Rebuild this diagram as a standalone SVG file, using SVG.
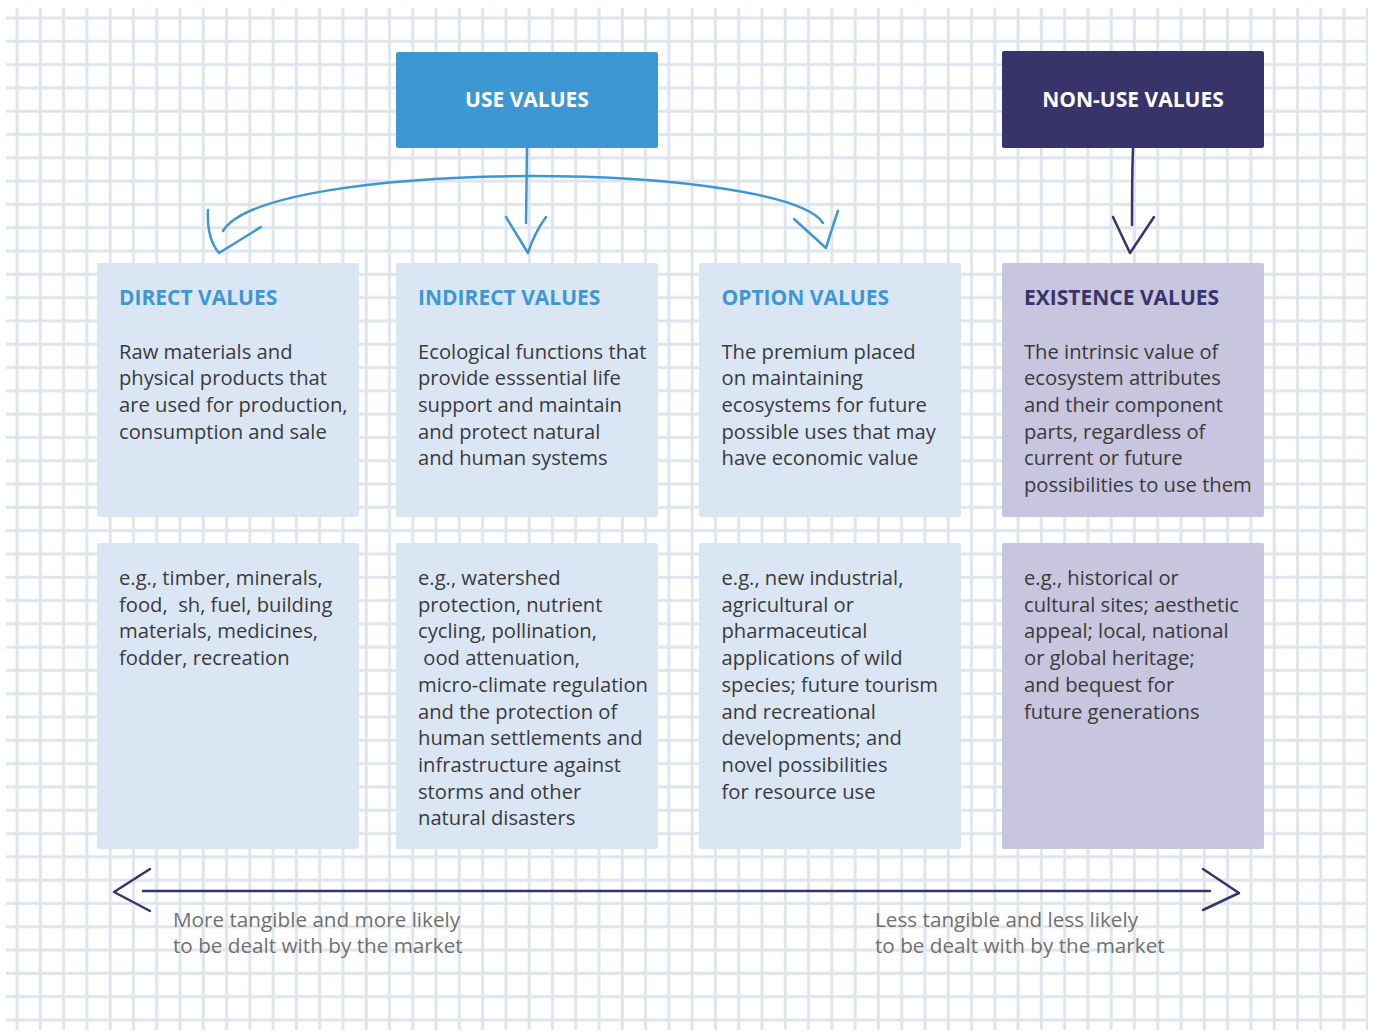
<svg xmlns="http://www.w3.org/2000/svg" width="1375" height="1032" viewBox="0 0 1375 1032">
<defs>
<pattern id="grid" patternUnits="userSpaceOnUse" x="6" y="8" width="23.28" height="23.3">
<rect x="9.5" y="0" width="3" height="23.3" fill="#dfe5ec"/>
<rect x="0" y="8.5" width="23.28" height="3" fill="#dfe5ec"/>
</pattern>
</defs>
<style>
.title{font-family:"Open Sans","Liberation Sans",sans-serif;font-weight:700;font-size:21px}
.head{font-family:"Open Sans","Liberation Sans",sans-serif;font-weight:700;font-size:21px;fill:#ffffff}
.body{font-family:"Open Sans","Liberation Sans",sans-serif;font-size:20.2px;fill:#3a3a3a;white-space:pre}
.note{font-family:"Open Sans","Liberation Sans",sans-serif;font-size:20.7px;fill:#707070}
.blue{fill:#dbe6f5}
.lav{fill:#c8c5de}
.cu{fill:none;stroke:#3d97d3;stroke-width:2.5;stroke-linecap:round;stroke-linejoin:round}
.cn{fill:none;stroke:#38346b;stroke-width:2.5;stroke-linecap:round;stroke-linejoin:round}
</style>
<rect x="0" y="0" width="1375" height="1032" fill="#ffffff"/>
<rect x="6" y="8" width="1362" height="1022" fill="url(#grid)"/>

<g id="use-values">
<rect x="396" y="52" width="262" height="96" rx="2" fill="#3d97d3"/>
<text class="head" x="527" y="107" text-anchor="middle">USE VALUES</text>
</g>
<g id="non-use-values">
<rect x="1002" y="51" width="262" height="97" rx="2" fill="#38346b"/>
<text class="head" x="1133" y="107" text-anchor="middle">NON-USE VALUES</text>
</g>

<g id="direct-values">
<rect class="blue" x="97" y="263" width="262" height="254" rx="2"/>
<text class="title" x="119" y="305" fill="#3d97d3">DIRECT VALUES</text>
<text class="body" x="119" y="358.5">Raw materials and</text>
<text class="body" x="119" y="385.2">physical products that</text>
<text class="body" x="119" y="411.9">are used for production,</text>
<text class="body" x="119" y="438.6">consumption and sale</text>
</g>
<g id="indirect-values">
<rect class="blue" x="396" y="263" width="262" height="254" rx="2"/>
<text class="title" x="418" y="305" fill="#3d97d3">INDIRECT VALUES</text>
<text class="body" x="418" y="358.5">Ecological functions that</text>
<text class="body" x="418" y="385.2">provide esssential life</text>
<text class="body" x="418" y="411.9">support and maintain</text>
<text class="body" x="418" y="438.6">and protect natural</text>
<text class="body" x="418" y="465.3">and human systems</text>
</g>
<g id="option-values">
<rect class="blue" x="699" y="263" width="262" height="254" rx="2"/>
<text class="title" x="721.5" y="305" fill="#3d97d3">OPTION VALUES</text>
<text class="body" x="721.5" y="358.5">The premium placed</text>
<text class="body" x="721.5" y="385.2">on maintaining</text>
<text class="body" x="721.5" y="411.9">ecosystems for future</text>
<text class="body" x="721.5" y="438.6">possible uses that may</text>
<text class="body" x="721.5" y="465.3">have economic value</text>
</g>
<g id="existence-values">
<rect class="lav" x="1002" y="263" width="262" height="254" rx="2"/>
<text class="title" x="1024" y="305" fill="#38346b">EXISTENCE VALUES</text>
<text class="body" x="1024" y="358.5">The intrinsic value of</text>
<text class="body" x="1024" y="385.2">ecosystem attributes</text>
<text class="body" x="1024" y="411.9">and their component</text>
<text class="body" x="1024" y="438.6">parts, regardless of</text>
<text class="body" x="1024" y="465.3">current or future</text>
<text class="body" x="1024" y="492">possibilities to use them</text>
</g>

<g id="direct-examples">
<rect class="blue" x="97" y="543" width="262" height="306" rx="2"/>
<text class="body" x="119" y="585">e.g., timber, minerals,</text>
<text class="body" x="119" y="611.7">food,  sh, fuel, building</text>
<text class="body" x="119" y="638.4">materials, medicines,</text>
<text class="body" x="119" y="665.1">fodder, recreation</text>
</g>
<g id="indirect-examples">
<rect class="blue" x="396" y="543" width="262" height="306" rx="2"/>
<text class="body" x="418" y="585">e.g., watershed</text>
<text class="body" x="418" y="611.7">protection, nutrient</text>
<text class="body" x="418" y="638.4">cycling, pollination,</text>
<text class="body" x="418" y="665.1"> ood attenuation,</text>
<text class="body" x="418" y="691.8">micro-climate regulation</text>
<text class="body" x="418" y="718.5">and the protection of</text>
<text class="body" x="418" y="745.2">human settlements and</text>
<text class="body" x="418" y="771.9">infrastructure against</text>
<text class="body" x="418" y="798.6">storms and other</text>
<text class="body" x="418" y="825.3">natural disasters</text>
</g>
<g id="option-examples">
<rect class="blue" x="699" y="543" width="262" height="306" rx="2"/>
<text class="body" x="721.5" y="585">e.g., new industrial,</text>
<text class="body" x="721.5" y="611.7">agricultural or</text>
<text class="body" x="721.5" y="638.4">pharmaceutical</text>
<text class="body" x="721.5" y="665.1">applications of wild</text>
<text class="body" x="721.5" y="691.8">species; future tourism</text>
<text class="body" x="721.5" y="718.5">and recreational</text>
<text class="body" x="721.5" y="745.2">developments; and</text>
<text class="body" x="721.5" y="771.9">novel possibilities</text>
<text class="body" x="721.5" y="798.6">for resource use</text>
</g>
<g id="existence-examples">
<rect class="lav" x="1002" y="543" width="262" height="306" rx="2"/>
<text class="body" x="1024" y="585">e.g., historical or</text>
<text class="body" x="1024" y="611.7">cultural sites; aesthetic</text>
<text class="body" x="1024" y="638.4">appeal; local, national</text>
<text class="body" x="1024" y="665.1">or global heritage;</text>
<text class="body" x="1024" y="691.8">and bequest for</text>
<text class="body" x="1024" y="718.5">future generations</text>
</g>

<g id="connectors">
<path class="cu" d="M527,148 L526,223"/>
<path class="cu" d="M223,231 C245,195 380,177 530,176 C680,176 805,195 823,223"/>
<path class="cu" d="M208,210 C207,230 212,245 219,253 L261,227"/>
<path class="cu" d="M506,217 L528,253 C532,240 538,228 546,217"/>
<path class="cu" d="M794,219 L826,248 C830,235 834,222 838,211"/>
<path class="cn" d="M1133,148 C1132,175 1132,200 1132,225"/>
<path class="cn" d="M1113,217 L1130,253 L1154,217"/>
<path class="cn" d="M143,891 L1210,891"/>
<path class="cn" d="M150,869 L114,892 L150,911"/>
<path class="cn" d="M1203,869 L1239,893 L1203,910"/>
</g>

<g id="labels">
<text class="note" x="173" y="927">More tangible and more likely</text>
<text class="note" x="173" y="953">to be dealt with by the market</text>
<text class="note" x="875" y="927">Less tangible and less likely</text>
<text class="note" x="875" y="953">to be dealt with by the market</text>
</g>
</svg>
